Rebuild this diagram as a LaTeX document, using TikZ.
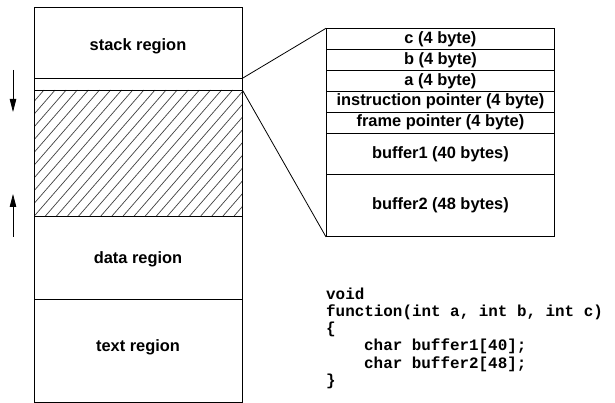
\documentclass[tikz,border=0pt]{standalone}
\usepackage{fontspec}
\setmainfont{Liberation Sans}
\newfontfamily\codefont{Liberation Mono}
\usetikzlibrary{arrows.meta}
\begin{document}
\begin{tikzpicture}[x=1pt,y=-1pt,
  box/.style={draw=black, line width=0.9pt, rectangle, inner sep=0pt, anchor=north west},
  lbl/.style={font=\fontsize{16.4}{19}\selectfont\bfseries, inner sep=0pt},
  code/.style={font=\fontsize{15.9}{17.3}\selectfont\codefont\bfseries, inner sep=0pt, anchor=base west},
  conn/.style={line width=0.8pt},
  growarrow/.style={line width=0.8pt, -{Triangle[length=13pt,width=6.5pt]}}]
\useasboundingbox (0,0) rectangle (615,403);
% left column
\node[box, minimum width=208pt, minimum height=71pt] (stack) at (34,7) {};
\node[box, minimum width=208pt, minimum height=12pt] (gap) at (34,78) {};
\node[box, minimum width=208pt, minimum height=126pt] (heap) at (34,90) {};
\node[box, minimum width=208pt, minimum height=83pt] (data) at (34,216) {};
\node[box, minimum width=208pt, minimum height=103pt] (text) at (34,299) {};
\begin{scope}
  \clip (heap.north west) rectangle (heap.south east);
  \foreach \k in {-2,...,30} {
    \draw[line width=0.7pt, black!75] ({44+11.1*\k-109.6},216) -- ({44+11.1*\k},90);
  }
\end{scope}
\node[box, minimum width=208pt, minimum height=126pt] (heapframe) at (34,90) {};
\node[lbl] (stacklbl) at (138,46) {stack region};
\node[lbl] (datalbl) at (138,259) {data region};
\node[lbl] (textlbl) at (138,347) {text region};
% arrows
\coordinate (d1) at (13,70);
\coordinate (d2) at (13,112);
\coordinate (u1) at (13,237);
\coordinate (u2) at (13,194);
\draw[growarrow] (d1) -- (d2);
\draw[growarrow] (u1) -- (u2);
% right stack frame
\node[box, minimum width=228pt, minimum height=21pt, lbl] (c) at (326,28.3) {c (4 byte)};
\node[box, minimum width=228pt, minimum height=20.7pt, lbl] (b) at (326,49.3) {b (4 byte)};
\node[box, minimum width=228pt, minimum height=20.7pt, lbl] (a) at (326,70) {a (4 byte)};
\node[box, minimum width=228pt, minimum height=21pt, lbl] (ip) at (326,90.7) {instruction pointer (4 byte)};
\node[box, minimum width=228pt, minimum height=21pt, lbl] (fp) at (326,111.7) {frame pointer (4 byte)};
\node[box, minimum width=228pt, minimum height=41.6pt, lbl] (buf1) at (326,132.7) {buffer1 (40 bytes)};
\node[box, minimum width=228pt, minimum height=61.7pt, lbl] (buf2) at (326,174.3) {buffer2 (48 bytes)};
% connectors
\draw[conn] (gap.north east) -- (c.north west);
\draw[conn] (gap.south east) -- (buf2.south west);
% code
\node[code] (l1) at (326,299) {void};
\node[code] (l2) at (326,316.3) {function(int a, int b, int c)};
\node[code] (l3) at (326,333.6) {\{};
\node[code] (l4) at (364,350.9) {char buffer1[40];};
\node[code] (l5) at (364,368.2) {char buffer2[48];};
\node[code] (l6) at (326,385.5) {\}};
\end{tikzpicture}
\end{document}
